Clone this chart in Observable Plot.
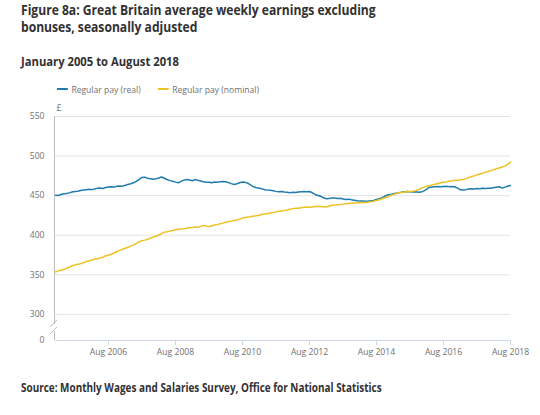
<!DOCTYPE html>
<html><head><meta charset="utf-8">
<script src="https://cdn.jsdelivr.net/npm/d3@7"></script>
<script src="https://cdn.jsdelivr.net/npm/@observablehq/plot@0.6"></script>
<style>
body{margin:0;background:#fff;font-family:"Open Sans",sans-serif;width:540px;height:415px;position:relative;overflow:hidden}
.sq{transform-origin:0 0;transform:scaleX(0.865)}
#title{position:absolute;left:21px;top:1px;font-size:14px;line-height:17px;font-weight:700;color:#323132;white-space:nowrap}
#subtitle{position:absolute;left:21px;top:53px;font-size:13px;line-height:16px;font-weight:700;color:#323132;white-space:nowrap}
#legend{position:absolute;left:57px;top:83px;font-size:9.5px;line-height:14px;color:#707070;white-space:nowrap;transform-origin:0 0;transform:scaleX(0.9)}
.item{display:inline-block;margin-right:19px}
.sw{display:inline-block;width:12px;height:2px;vertical-align:middle;margin-right:4px;position:relative;top:-1px}
#chart{position:absolute;left:0;top:100px}
#source{position:absolute;left:21px;top:380px;font-size:11.5px;line-height:16px;font-weight:700;color:#323132;white-space:nowrap}
</style></head><body>
<div id="title" class="sq">Figure 8a: Great Britain average weekly earnings excluding<br>bonuses, seasonally adjusted</div>
<div id="subtitle" class="sq">January 2005 to August 2018</div>
<div id="legend"></div>
<div id="chart"></div>
<div id="source" class="sq">Source: Monthly Wages and Salaries Survey, Office for National Statistics</div>
<script>
const seriesNames = ["Regular pay (real)", "Regular pay (nominal)"];
const seriesColors = ["#1f7cac", "#edc221"];
const startYear = 2005;
const realPay = [
450.5,450.2,451.5,452.3,452.8,453.5,454.6,455.2,455.6,456.4,457.1,457.6,
458.0,457.6,458.3,459.2,459.6,459.1,460.3,460.9,461.2,460.8,461.8,462.3,
462.0,463.1,464.2,465.0,466.3,468.1,470.5,473.0,473.4,472.0,471.3,470.6,
471.4,472.3,473.5,472.0,470.4,469.0,468.2,467.1,466.3,468.0,469.6,470.4,
469.8,468.9,470.3,469.5,468.6,467.5,466.8,467.0,466.4,467.3,467.0,467.6,
468.0,467.6,466.5,465.2,464.1,465.0,466.3,467.2,466.8,465.6,463.3,461.2,
460.0,459.4,458.6,457.5,457.0,456.8,456.1,455.4,455.0,455.3,454.6,454.2,
453.6,454.3,453.9,454.6,455.0,455.3,454.8,455.2,453.6,451.5,450.3,449.2,
447.3,446.0,446.5,446.9,447.0,446.3,446.6,445.9,445.2,445.6,444.8,444.3,
443.6,443.1,443.4,442.8,443.1,443.5,444.0,445.2,446.0,447.4,449.2,451.0,
451.6,452.4,453.0,453.6,454.3,455.0,455.3,454.8,454.6,455.0,454.3,454.5,
456.0,458.2,460.7,461.0,461.3,461.6,461.2,461.5,461.8,461.4,461.6,461.3,
459.5,457.4,457.0,457.6,458.3,458.7,458.5,459.0,458.8,459.2,459.0,459.5,
459.3,460.2,460.7,461.3,459.5,460.8,461.9,462.9];
const nominalPay = [
353.5,355.0,355.8,356.6,358.2,359.5,361.4,362.3,363.4,364.1,365.3,366.7,
367.8,368.5,369.6,370.4,371.3,372.2,374.0,374.8,376.0,377.6,379.2,380.8,
382.3,383.6,384.8,386.3,387.8,389.6,391.6,393.0,393.8,395.0,396.4,397.6,
398.8,400.2,402.1,403.9,404.3,405.2,406.0,406.9,407.6,408.0,408.3,408.8,
409.4,409.8,410.3,410.0,411.2,412.4,411.6,411.1,412.0,412.8,413.4,414.5,
415.3,416.5,417.4,417.8,418.6,419.3,420.4,421.7,422.3,422.9,423.4,424.2,
424.6,425.3,426.4,426.7,427.2,428.0,428.6,429.5,430.4,430.6,431.4,432.0,
432.8,433.6,434.2,434.0,434.8,435.3,435.6,435.3,435.8,436.2,436.5,436.3,
436.0,435.6,436.7,437.9,438.2,438.5,438.9,439.3,439.8,440.2,440.5,440.8,
441.0,441.3,441.0,441.5,441.8,442.3,443.0,444.0,444.9,446.0,447.3,448.1,
450.3,451.4,452.6,453.6,454.0,454.5,455.2,455.0,455.7,456.3,457.6,459.4,
460.8,462.0,462.6,463.4,464.3,465.3,466.3,467.0,467.4,468.2,468.8,469.2,
469.6,470.0,470.4,471.5,472.8,474.2,475.0,476.3,477.4,478.2,479.7,480.5,
481.6,482.8,484.2,485.0,486.1,487.3,489.6,492.3];
const yTicks = [0, 300, 350, 400, 450, 500, 550];
const yGrid = [300, 350, 400, 450, 500, 550];
const xTickLabels = ["Aug 2006","Aug 2008","Aug 2010","Aug 2012","Aug 2014","Aug 2016","Aug 2018"];
const unitLabel = "£";

const parseTick = d3.utcParse("%b %Y");
const xTicks = xTickLabels.map(parseTick);
const start = new Date(Date.UTC(startYear, 0, 1));
const dates = realPay.map((_, i) => d3.utcMonth.offset(start, i));
const rows = [];
realPay.forEach((v, i) => rows.push({date: dates[i], value: v, series: seriesNames[0]}));
nominalPay.forEach((v, i) => rows.push({date: dates[i], value: v, series: seriesNames[1]}));

// broken y axis: values below 300 are compressed into a short band
const breakAt = 300, breakBand = 33;
const yT = v => v >= breakAt ? v : breakAt - breakBand * (breakAt - v) / breakAt;

// legend
const lg = document.getElementById("legend");
seriesNames.forEach((n, i) => {
  const s = document.createElement("span"); s.className = "item";
  s.innerHTML = `<span class="sw" style="background:${seriesColors[i]}"></span>${n}`;
  lg.appendChild(s);
});

const axisCol = "#bdbdbd";
const breakMark = (index, scales) => {
  const x = scales.x(dates[0]) - 1;
  const ya = scales.y(yT(185)), yb = scales.y(yT(104));
  const g = d3.create("svg:g").attr("stroke", axisCol).attr("fill", "none").attr("stroke-width", 1);
  g.append("line").attr("x1", x - 4).attr("y1", ya + 3).attr("x2", x + 3).attr("y2", ya - 4);
  g.append("line").attr("x1", x - 4).attr("y1", yb + 3).attr("x2", x + 3).attr("y2", yb - 4);
  return g.node();
};

const chart = Plot.plot({
  width: 540, height: 265,
  marginLeft: 55, marginRight: 30, marginTop: 16, marginBottom: 25,
  style: {fontFamily: '"Open Sans", sans-serif', fontSize: "8.6px", color: "#707070", background: "transparent", overflow: "visible"},
  x: {type: "utc", domain: [dates[0], dates[dates.length - 1]]},
  y: {type: "linear", transform: yT, domain: [yT(0), 550], axis: null},
  color: {domain: seriesNames, range: seriesColors},
  marks: [
    Plot.ruleY(yGrid, {stroke: "#e4e4e4"}),
    Plot.ruleY([0], {stroke: "#cdd7e6"}),
    Plot.ruleX([dates[0]], {y1: 550, y2: 185, stroke: axisCol, dx: -1}),
    Plot.ruleX([dates[0]], {y1: 104, y2: 0, stroke: axisCol, dx: -1}),
    breakMark,
    Plot.axisX({ticks: xTicks, tickFormat: d3.utcFormat("%b %Y"), tickSize: 5, tickPadding: 3, stroke: "#cdd7e6", fill: "#707070", label: null}),
    Plot.text(yTicks, {x: () => dates[0], y: d => d, text: d => String(d), textAnchor: "end", dx: -11, fill: "#707070"}),
    Plot.text([unitLabel], {x: () => dates[0], y: () => 550, dy: -8, dx: 1, textAnchor: "start", fill: "#707070"}),
    Plot.line(rows, {x: "date", y: "value", stroke: "series", z: "series", strokeWidth: 1.5})
  ]
});
document.getElementById("chart").appendChild(chart);
</script>
</body></html>
